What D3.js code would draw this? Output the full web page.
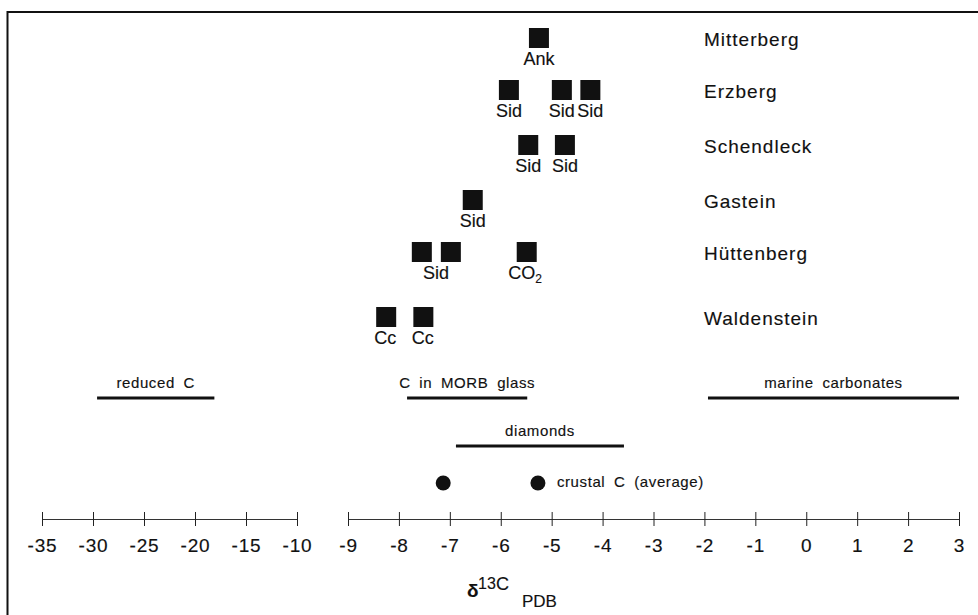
<!DOCTYPE html>
<html>
<head>
<meta charset="utf-8">
<script src="https://cdn.jsdelivr.net/npm/d3@7"></script>
<style>
  body { margin: 0; background: #fff; }
  svg { display: block; font-family: "Liberation Sans", Arial, sans-serif; }
  svg text { stroke: #111; stroke-width: 0.15px; }
</style>
</head>
<body>
<div id="container"></div>
<script>
/* DATA */
const localities = ["Mitterberg", "Erzberg", "Schendleck", "Gastein", "Hüttenberg", "Waldenstein"];

// individual carbonate samples (d13C, per mil PDB)
const sampleSites  = ["Mitterberg", "Erzberg", "Erzberg", "Erzberg", "Schendleck", "Schendleck",
                      "Gastein", "Hüttenberg", "Hüttenberg", "Hüttenberg", "Waldenstein", "Waldenstein"];
const sampleValues = [-5.25, -5.84, -4.80, -4.24, -5.46, -4.74, -6.55, -7.55, -6.98, -5.49, -8.25, -7.52];

// mineral labels under the squares
const labelSites  = ["Mitterberg", "Erzberg", "Erzberg", "Erzberg", "Schendleck", "Schendleck",
                     "Gastein", "Hüttenberg", "Hüttenberg", "Waldenstein", "Waldenstein"];
const labelValues = [-5.25, -5.84, -4.80, -4.24, -5.46, -4.74, -6.55, -7.27, -5.52, -8.27, -7.53];
const labelTexts  = ["Ank", "Sid", "Sid", "Sid", "Sid", "Sid", "Sid", "Sid", "CO2", "Cc", "Cc"];

// reference reservoirs
const rangeNames = ["reduced C", "C in MORB glass", "marine carbonates", "diamonds"];
const rangeFrom  = [-29.6, -7.84, -1.93, -6.88];
const rangeTo    = [-18.1, -5.48, 3.0, -3.58];
const rangeLevel = [0, 0, 0, 1];

const crustalValues = [-7.13, -5.27];

const ticksLeft  = [-35, -30, -25, -20, -15, -10];
const ticksRight = [-9, -8, -7, -6, -5, -4, -3, -2, -1, 0, 1, 2, 3];

/* CONSTANTS */
const width = 978, height = 615;
const axisY = 519;

/* SCALES */
// broken axis: two linear pieces
const xLeft = d3.scaleLinear().domain([-35, -10]).range([42, 297]);
const xRight = d3.scaleLinear().domain([-9, 3]).range([348, 959]);
const xOf = v => v <= -10 ? xLeft(v) : xRight(v);

const yRow = d3.scaleOrdinal()
  .domain(localities)
  .range([38, 90, 145, 200, 252, 317]);

const yLevel = d3.scaleOrdinal()
  .domain([0, 1, 2])
  .range([398, 446, 483]);

const sq = 20;

/* ELEMENTS */
const svg = d3.select("#container")
  .append("svg")
  .attr("width", width)
  .attr("height", height);

// frame
svg.append("path")
  .attr("d", `M7.5,${height} L7.5,12 L${width},12`)
  .attr("fill", "none")
  .attr("stroke", "#111")
  .attr("stroke-width", 2);

// locality names
svg.selectAll("text.site")
  .data(localities)
  .join("text")
  .attr("class", "site")
  .attr("x", 704)
  .attr("y", d => yRow(d) + 8)
  .attr("font-size", "19px")
  .attr("letter-spacing", "1px")
  .attr("fill", "#111")
  .text(d => d);

// sample squares
svg.selectAll("rect.sample")
  .data(sampleValues)
  .join("rect")
  .attr("class", "sample")
  .attr("x", d => xRight(d) - sq / 2)
  .attr("y", (d, i) => yRow(sampleSites[i]) - sq / 2)
  .attr("width", sq)
  .attr("height", sq)
  .attr("fill", "#111");

// mineral labels
const lab = svg.selectAll("text.mineral")
  .data(labelValues)
  .join("text")
  .attr("class", "mineral")
  .attr("x", d => xRight(d))
  .attr("y", (d, i) => yRow(labelSites[i]) + 27)
  .attr("text-anchor", "middle")
  .attr("font-size", "18px")
  .attr("fill", "#111");

lab.each(function(d, i) {
  const t = d3.select(this);
  if (labelTexts[i] === "CO2") {
    t.append("tspan").text("CO");
    t.append("tspan").attr("font-size", "12px").attr("dy", 4).text("2");
  } else {
    t.text(labelTexts[i]);
  }
});

// reservoir ranges
svg.selectAll("line.range")
  .data(rangeNames)
  .join("line")
  .attr("class", "range")
  .attr("x1", (d, i) => xOf(rangeFrom[i]))
  .attr("x2", (d, i) => xOf(rangeTo[i]))
  .attr("y1", (d, i) => yLevel(rangeLevel[i]))
  .attr("y2", (d, i) => yLevel(rangeLevel[i]))
  .attr("stroke", "#111")
  .attr("stroke-width", 3);

svg.selectAll("text.range-label")
  .data(rangeNames)
  .join("text")
  .attr("class", "range-label")
  .attr("x", (d, i) => (xOf(rangeFrom[i]) + xOf(rangeTo[i])) / 2)
  .attr("y", (d, i) => yLevel(rangeLevel[i]) - 10)
  .attr("text-anchor", "middle")
  .attr("font-size", "15px")
  .attr("letter-spacing", "0.6px")
  .attr("word-spacing", "4px")
  .attr("fill", "#111")
  .text(d => d);

// crustal C averages
svg.selectAll("circle.crustal")
  .data(crustalValues)
  .join("circle")
  .attr("class", "crustal")
  .attr("cx", d => xRight(d))
  .attr("cy", yLevel(2))
  .attr("r", 7.5)
  .attr("fill", "#111");

svg.append("text")
  .attr("x", xRight(d3.max(crustalValues)) + 19)
  .attr("y", yLevel(2) + 4)
  .attr("font-size", "15px")
  .attr("letter-spacing", "0.6px")
  .attr("word-spacing", "4px")
  .attr("fill", "#111")
  .text("crustal C (average)");

/* AXES */
function styleAxis(g) {
  g.select(".domain").attr("stroke", "#333").attr("stroke-width", 1);
  g.selectAll(".tick line").attr("y1", -7).attr("y2", 7).attr("stroke", "#222");
  g.selectAll(".tick text")
    .attr("y", 20)
    .attr("dy", "0.71em")
    .attr("font-size", "19px")
    .attr("letter-spacing", "0.8px")
    .attr("font-family", "Liberation Sans, Arial, sans-serif")
    .attr("fill", "#111");
}

svg.append("g")
  .attr("transform", `translate(0,${axisY})`)
  .call(d3.axisBottom(xLeft).tickValues(ticksLeft).tickFormat(d => String(d))
    .tickSizeOuter(0).tickSizeInner(7))
  .call(styleAxis);

svg.append("g")
  .attr("transform", `translate(0,${axisY})`)
  .call(d3.axisBottom(xRight).tickValues(ticksRight).tickFormat(d => String(d))
    .tickSizeOuter(0).tickSizeInner(7))
  .call(styleAxis);

// axis title: δ13C PDB
const title = svg.append("text")
  .attr("fill", "#111");
title.append("tspan").attr("x", 467).attr("y", 597).attr("font-size", "19px").attr("font-weight", "bold").text("δ");
title.append("tspan").attr("x", 478).attr("y", 589).attr("font-size", "16px").text("13");
title.append("tspan").attr("x", 496).attr("y", 590).attr("font-size", "18px").text("C");
title.append("tspan").attr("x", 522).attr("y", 607).attr("font-size", "17px").text("PDB");
</script>
</body>
</html>
